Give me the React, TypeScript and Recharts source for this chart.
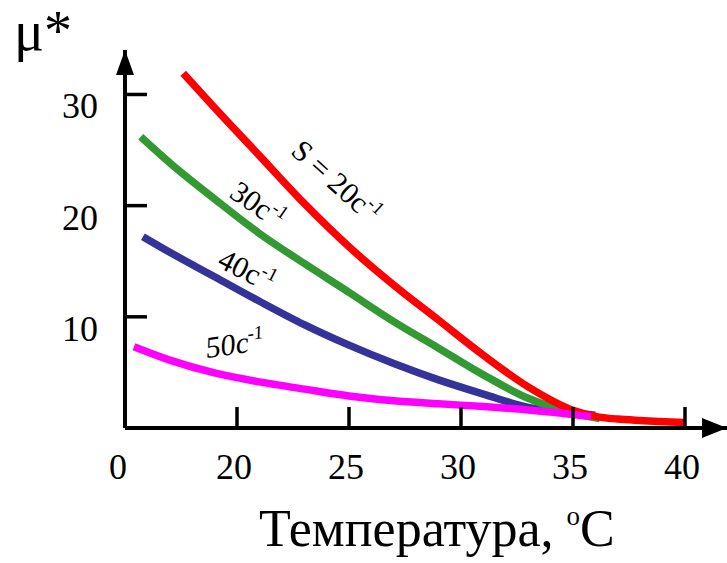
import { LineChart, Line, XAxis, YAxis, ReferenceDot } from 'recharts';

// temperature (°C) and μ*, one pair of arrays per shear rate
const s20Temp = [17.6, 19, 21, 23, 25, 27, 29, 31, 33, 35, 36, 37, 38, 40];
const s20Mu = [31.9, 28.8, 24.5, 20.2, 16.3, 12.85, 9.7, 6.55, 3.7, 1.6, 1.05, 0.8, 0.67, 0.5];

const s30Temp = [15.7, 17, 19, 21, 23, 25, 27, 29, 31, 33, 35, 36.2];
const s30Mu = [26.2, 23.85, 20.6, 17.5, 14.8, 12.2, 9.57, 7.18, 4.78, 2.67, 1.35, 0.85];

const s40Temp = [15.8, 17, 19, 21, 23, 25, 27, 29, 31, 33, 35, 36];
const s40Mu = [17.2, 15.8, 13.6, 11.4, 9.3, 7.45, 5.8, 4.33, 3.05, 1.85, 1.32, 1.15];

const s50Temp = [15.4, 17, 19, 21, 23, 25, 27, 29, 31, 33, 35, 35.8];
const s50Mu = [7.3, 6.1, 4.95, 4.15, 3.5, 2.88, 2.45, 2.18, 1.93, 1.62, 1.22, 1.02];

const xTicks = [15, 20, 25, 30, 35, 40];
const xTickLabels = ['0', '20', '25', '30', '35', '40'];
const yTicks = [10, 20, 30];

const X_MIN = 15;
const X_MAX = 41.875;
const Y_MAX = 34;

const FONT = "'Liberation Serif', 'DejaVu Serif', serif";

const zip = (t: number[], v: number[]) => t.map((x, i) => ({ t: x, v: v[i] }));

const series = [
  { key: 's40', data: zip(s40Temp, s40Mu), color: '#333399' },
  { key: 's30', data: zip(s30Temp, s30Mu), color: '#339933' },
  { key: 's20', data: zip(s20Temp, s20Mu), color: '#ff0000' },
  { key: 's50', data: zip(s50Temp, s50Mu), color: '#ff00ff' },
];

const curveLabels = [
  { pre: 'S = 20с', t: 24.45, v: 22.2, angle: 42, italic: false },
  { pre: '30с', t: 20.95, v: 20.1, angle: 35, italic: false },
  { pre: '40с', t: 20.45, v: 14.2, angle: 27, italic: false },
  { pre: '50с', t: 19.9, v: 7.6, angle: -8, italic: true },
];

function XTick(props: any) {
  const { x, y, payload } = props;
  const idx = xTicks.indexOf(payload.value);
  return (
    <g>
      {payload.value !== X_MIN && (
        <line x1={x} y1={y} x2={x} y2={y - 21} stroke="#000" strokeWidth={3.5} />
      )}
      <text
        x={payload.value === X_MIN ? x - 7 : x - 3}
        y={y + 51}
        textAnchor="middle"
        fontFamily={FONT}
        fontSize={36}
        fill="#000"
      >
        {xTickLabels[idx]}
      </text>
    </g>
  );
}

function YTick(props: any) {
  const { x, y, payload } = props;
  return (
    <g>
      <line x1={x} y1={y} x2={x + 22} y2={y} stroke="#000" strokeWidth={3.5} />
      <text x={x - 27} y={y + 24} textAnchor="end" fontFamily={FONT} fontSize={36} fill="#000">
        {payload.value}
      </text>
    </g>
  );
}

const upArrow = (p: any) => (
  <polygon
    points={`${p.cx},${p.cy} ${p.cx - 9},${p.cy + 25} ${p.cx + 9},${p.cy + 25}`}
    fill="#000"
  />
);

const rightArrow = (p: any) => (
  <polygon
    points={`${p.cx},${p.cy} ${p.cx - 25},${p.cy - 10} ${p.cx - 25},${p.cy + 10}`}
    fill="#000"
  />
);

const makeLabel = (l: (typeof curveLabels)[number]) => (p: any) => (
  <text
    x={p.cx}
    y={p.cy}
    dy="0.35em"
    textAnchor="middle"
    transform={`rotate(${l.angle} ${p.cx} ${p.cy})`}
    fontFamily={FONT}
    fontSize={30}
    fontStyle={l.italic ? 'italic' : 'normal'}
    fill="#000"
  >
    {l.pre}
    <tspan fontSize={19} dy={-12}>
      -1
    </tspan>
  </text>
);

export default function App() {
  return (
    <div style={{ position: 'relative', width: 727, height: 563, background: '#fff' }}>
      <style>{'body{margin:0}'}</style>
      <LineChart
        width={727}
        height={563}
        margin={{ top: 50, right: 0, bottom: 134, left: 124 }}
      >
        <XAxis
          type="number"
          dataKey="t"
          domain={[X_MIN, X_MAX]}
          ticks={xTicks}
          height={1}
          tickSize={0}
          tickMargin={0}
          tickLine={false}
          axisLine={{ stroke: '#000', strokeWidth: 4 }}
          tick={<XTick />}
          allowDataOverflow
        />
        <YAxis
          type="number"
          dataKey="v"
          domain={[0, Y_MAX]}
          ticks={yTicks}
          width={1}
          tickSize={0}
          tickMargin={0}
          tickLine={false}
          axisLine={{ stroke: '#000', strokeWidth: 4 }}
          tick={<YTick />}
          allowDataOverflow
        />
        {series.map((s) => (
          <Line
            key={s.key}
            data={s.data}
            dataKey="v"
            type="monotone"
            stroke={s.color}
            strokeWidth={7.5}
            dot={false}
            activeDot={false}
            isAnimationActive={false}
          />
        ))}
        <ReferenceDot x={X_MIN} y={Y_MAX} r={0} ifOverflow="visible" shape={upArrow} />
        <ReferenceDot x={X_MAX} y={0} r={0} ifOverflow="visible" shape={rightArrow} />
        {curveLabels.map((l) => (
          <ReferenceDot
            key={l.pre}
            x={l.t}
            y={l.v}
            r={0}
            ifOverflow="visible"
            shape={makeLabel(l)}
          />
        ))}
      </LineChart>
      <svg
        width={727}
        height={563}
        style={{ position: 'absolute', left: 0, top: 0, pointerEvents: 'none' }}
      >
        <text x={14} y={50} fontFamily={FONT} fontSize={56} fill="#000">
          μ*
        </text>
        <text x={259} y={546} fontFamily={FONT} fontSize={52} fill="#000">
          Температура,{' '}
          <tspan fontSize={27} dy={-21}>
            o
          </tspan>
          <tspan dy={21}>C</tspan>
        </text>
      </svg>
    </div>
  );
}
